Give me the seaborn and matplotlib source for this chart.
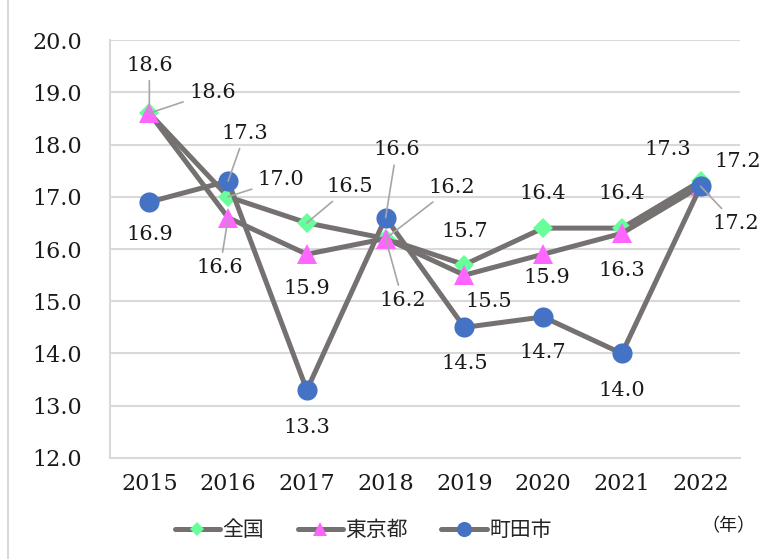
import numpy as np
import pandas as pd
import matplotlib
matplotlib.use("Agg")
import matplotlib.pyplot as plt
from matplotlib.lines import Line2D
import seaborn as sns

# values
years = [2015, 2016, 2017, 2018, 2019, 2020, 2021, 2022]
zenkoku = [18.6, 17.0, 16.5, 16.2, 15.7, 16.4, 16.4, 17.3]
tokyo = [18.6, 16.6, 15.9, 16.2, 15.5, 15.9, 16.3, 17.2]
machida = [16.9, 17.3, 13.3, 16.6, 14.5, 14.7, 14.0, 17.2]
series_names = ["全国", "東京都", "町田市"]
y_ticks = [12.0, 13.0, 14.0, 15.0, 16.0, 17.0, 18.0, 19.0, 20.0]

df = pd.DataFrame({
    "year": years * 3,
    "value": zenkoku + tokyo + machida,
    "series": np.repeat(series_names, len(years)),
})

# marker styles per series
styles = {
    "全国": dict(marker="D", markersize=10, markerfacecolor="#66FF99"),
    "東京都": dict(marker="^", markersize=14, markerfacecolor="#FF66FF"),
    "町田市": dict(marker="o", markersize=14.5, markerfacecolor="#4472C4"),
}

# label offsets in pixels (dx, dy downward, leader line?)
label_pos = {
    "全国": [(63, -21, True), (53, -17, True), (43, -36, True), (66, -51, True),
             (0, -33, False), (0, -35, False), (0, -35, False), (-33, -32, False)],
    "東京都": [(0, -48, True), (-8, 50, True), (0, 34, False), (17, 62, True),
              (24, 26, False), (4, 23, False), (0, 37, False), (37, -25, False)],
    "町田市": [(0, 33, False), (17, -48, True), (0, 37, False), (11, -68, True),
              (0, 36, False), (0, 36, False), (0, 37, False), (35, 37, True)],
}

sns.set_style("white")
plt.rcParams["font.family"] = ["DejaVu Serif"]

fig, ax = plt.subplots(figsize=(7.6, 5.59), dpi=100)
fig.subplots_adjust(left=0.1447, right=0.9737, bottom=0.1807, top=0.9284)

line_gray = "#767171"
for name in series_names:
    sub = df[df["series"] == name]
    sns.lineplot(data=sub, x="year", y="value", ax=ax, color=line_gray,
                 linewidth=3.6, markeredgecolor=styles[name]["markerfacecolor"],
                 markeredgewidth=0, label=name, **styles[name])

for name in series_names:
    sub = df[df["series"] == name]
    for (x, y), (dx, dy, leader) in zip(sub[["year", "value"]].values, label_pos[name]):
        kw = {}
        if leader:
            kw["arrowprops"] = dict(arrowstyle="-", color="#A6A6A6", lw=1.2,
                                    shrinkA=2, shrinkB=0)
        ax.annotate(f"{y:.1f}", xy=(x, y), xytext=(dx, -dy),
                    textcoords="offset pixels", ha="center", va="center",
                    fontsize=15, color="#1a1a1a", **kw)

ax.set_xlim(2014.5, 2022.5)
ax.set_ylim(12, 20)
ax.set_xticks(years)
ax.set_xticklabels([str(y) for y in years])
ax.set_yticks(y_ticks)
ax.set_yticklabels([f"{t:.1f}" for t in y_ticks])
ax.set_xlabel("")
ax.set_ylabel("")
ax.grid(axis="y", color="#D9D9D9", linewidth=1.5)
ax.grid(axis="x", visible=False)
ax.tick_params(axis="y", length=0, pad=20, labelsize=16, colors="#1a1a1a")
ax.tick_params(axis="x", length=0, pad=11, labelsize=16, colors="#1a1a1a")
for side in ["top", "right"]:
    ax.spines[side].set_visible(False)
for side in ["left", "bottom"]:
    ax.spines[side].set_color("#D9D9D9")
    ax.spines[side].set_linewidth(1.5)

handles, labels = ax.get_legend_handles_labels()
ax.legend(handles, labels, loc="center", bbox_to_anchor=(0.478, 0.052),
          bbox_transform=fig.transFigure, ncol=3, frameon=False,
          prop={"family": "Noto Sans CJK JP", "size": 15},
          handlelength=2.2, handletextpad=0.1, columnspacing=1.6,
          markerscale=0.75)

fig.text(0.994, 0.058, "（年）", ha="right", va="center",
         family="Noto Sans CJK JP", fontsize=13, color="#1a1a1a")
fig.add_artist(Line2D([8 / 760, 8 / 760], [0, 1], transform=fig.transFigure,
                      color="#D9D9D9", linewidth=1.5))

fig.savefig("out.png", dpi=100)
